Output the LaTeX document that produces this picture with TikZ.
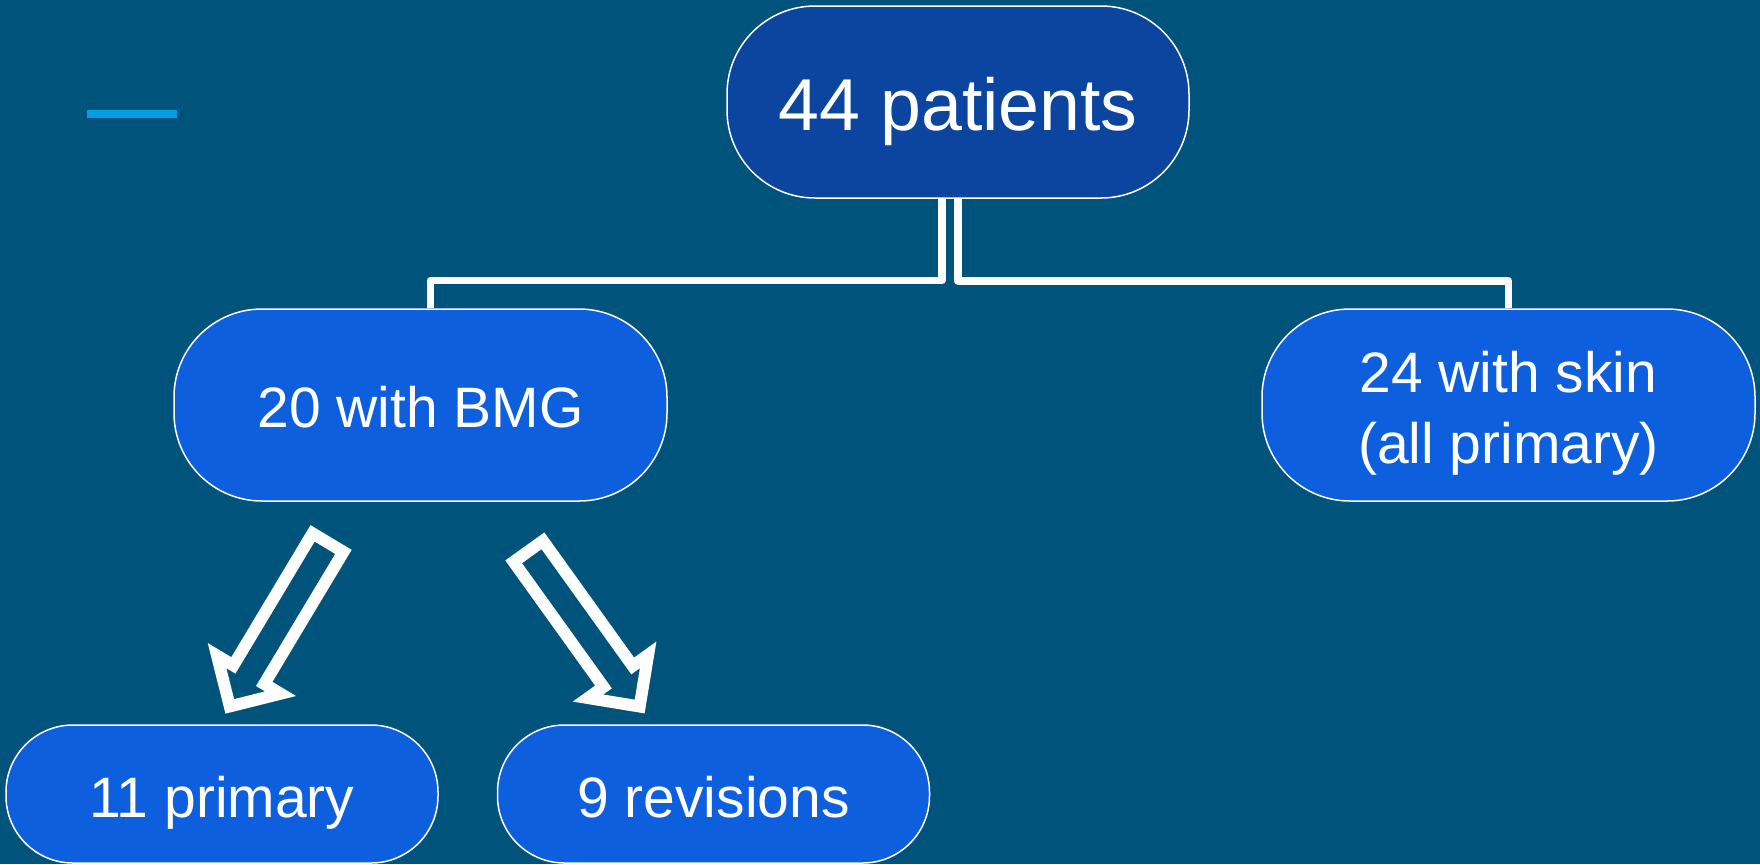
\documentclass[tikz,border=0pt]{standalone}
\usepackage{fontspec}
\setmainfont{Liberation Sans}
\usetikzlibrary{calc}
\definecolor{bg}{HTML}{00537B}
\definecolor{topblue}{HTML}{0C45A0}
\definecolor{boxblue}{HTML}{0E5FDD}
\definecolor{accent}{HTML}{049EE4}
\begin{document}
\begin{tikzpicture}[x=0.5pt,y=-0.5pt,
  bubble/.style={draw=white, line width=0.75pt, fill=boxblue, text=white, inner sep=0pt, font=\fontsize{28.5}{35.5}\selectfont},
  bigbubble/.style={bubble, minimum width=246.5pt, minimum height=96pt, rounded corners=44pt},
  smallbubble/.style={bubble, minimum width=216pt, minimum height=69pt, rounded corners=33.5pt, text height=23.5pt, text depth=0pt},
  conn/.style={draw=white, line width=3.75pt, line join=round},
  blockarrow/.style={draw=white, line width=6pt, line join=miter}]
\fill[bg] (0,0) rectangle (1760,864);
\fill[accent] (87,110) rectangle (177,118);
\node[bubble, fill=topblue, minimum width=231pt, minimum height=96pt, rounded corners=44pt, font=\fontsize{36.75}{44}\selectfont, text height=28.5pt, text depth=0pt] (top) at (958,102) {44 patients};
\node[bigbubble, text height=22.5pt, text depth=0pt] (bmg) at (420.5,405) {20 with BMG};
\node[bigbubble, align=center, text height=58pt, text depth=0pt] (skin) at (1508.5,405) {24 with skin\\(all primary)};
\node[smallbubble] (prim) at (222,794) {11 primary};
\node[smallbubble] (rev) at (713.5,794) {9 revisions};
\coordinate (lj) at (430.5,280.5);
\coordinate (rj) at (1508.5,281);
\draw[conn] ([xshift=-8pt]top.south) |- (lj) -- (lj |- bmg.north);
\draw[conn] (top.south) |- (rj) -- (rj |- skin.north);
\coordinate (la) at (328,542.6);
\coordinate (ra) at (528.3,551.3);
\begin{scope}[shift={(la)}, x={(-0.2571pt,-0.42875pt)}, y={(0.42875pt,-0.2571pt)}]
\draw[blockarrow] (0,-18) -- (154,-18) -- (154,-37) -- (191,0) -- (154,37) -- (154,18) -- (0,18) -- cycle;
\end{scope}
\begin{scope}[shift={(ra)}, x={(0.2915pt,-0.4063pt)}, y={(0.4063pt,0.2915pt)}]
\draw[blockarrow] (0,-18) -- (154,-18) -- (154,-37) -- (191,0) -- (154,37) -- (154,18) -- (0,18) -- cycle;
\end{scope}
\end{tikzpicture}
\end{document}
